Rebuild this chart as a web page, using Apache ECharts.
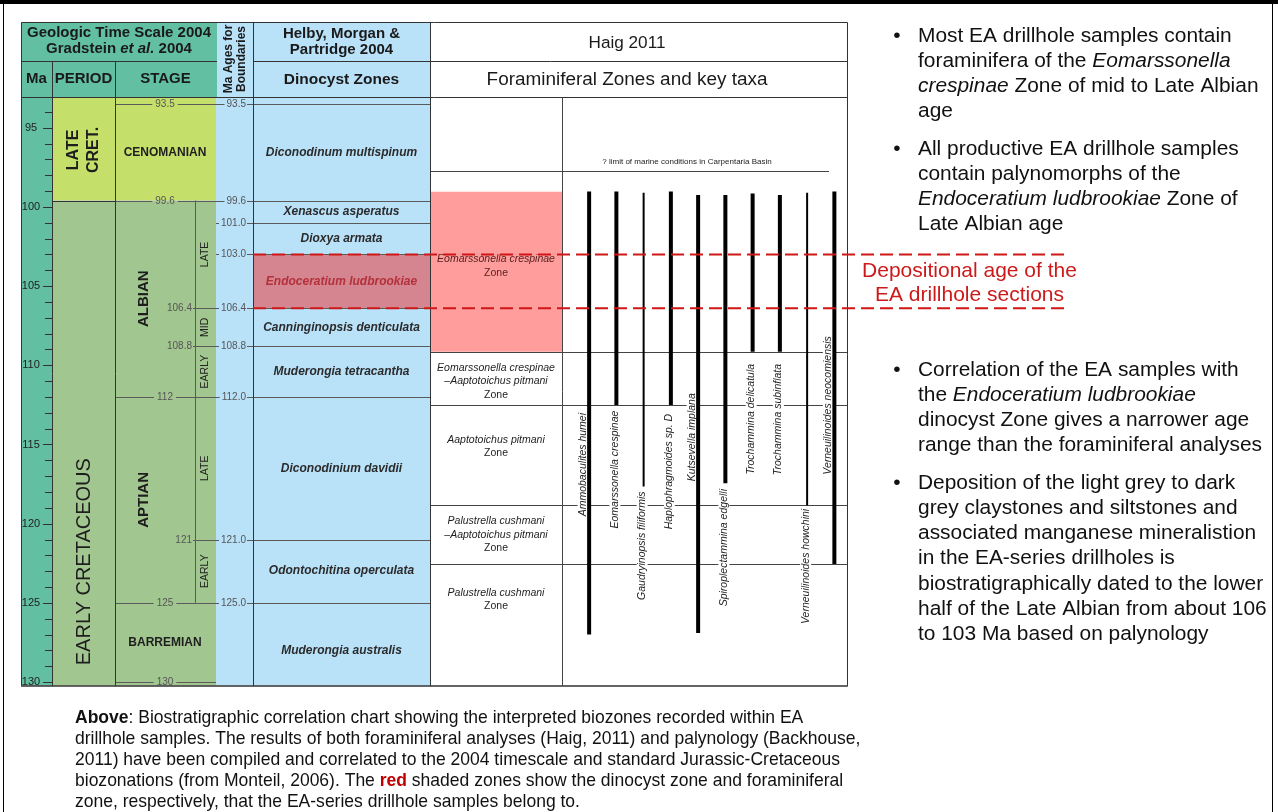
<!DOCTYPE html>
<html>
<head>
<meta charset="utf-8">
<title>Biostratigraphic correlation chart</title>
<script src="https://cdn.jsdelivr.net/npm/echarts@6/dist/echarts.min.js"></script>
<style>
html,body{margin:0;padding:0;background:#fff;}
#chart{width:1278px;height:812px;}
</style>
</head>
<body>
<div id="chart"></div>
<script>
// ================= DATA =================
const maLabels = [95, 100, 105, 110, 115, 120, 125, 130];
const maTicks = [94, 95, 96, 97, 98, 99, 100, 101, 102, 103, 104, 105, 106, 107, 108, 109, 110, 111, 112,
  113, 114, 115, 116, 117, 118, 119, 120, 121, 122, 123, 124, 125, 126, 127, 128, 129, 130];

const periods = ['LATE\nCRET.', 'EARLY CRETACEOUS'];
const periodTop = [93.0, 99.6];
const periodBase = [99.6, 131.0];
const periodLabelAt = [96.4, 122.4];

const stages = ['CENOMANIAN', 'ALBIAN', 'APTIAN', 'BARREMIAN'];
const stageTop = [93.5, 99.6, 112, 125];
const stageBase = [99.6, 112, 125, 130];

const substages = ['LATE', 'MID', 'EARLY', 'LATE', 'EARLY'];
const substageTop = [99.6, 106.4, 108.8, 112, 121];
const substageBase = [106.4, 108.8, 112, 121, 125];

const boundaryAges = [93.5, 99.6, 101.0, 103.0, 106.4, 108.8, 112.0, 121.0, 125.0];

const dinoZones = ['Diconodinum multispinum', 'Xenascus asperatus', 'Dioxya armata', 'Endoceratium ludbrookiae',
  'Canninginopsis denticulata', 'Muderongia tetracantha', 'Diconodinium davidii', 'Odontochitina operculata',
  'Muderongia australis'];
const dinoTop = [93.5, 99.6, 101.0, 103.0, 106.4, 108.8, 112.0, 121.0, 125.0];
const dinoBase = [99.6, 101.0, 103.0, 106.4, 108.8, 112.0, 121.0, 125.0, 131.0];
const dinoEA = 3;

const foramZones = ['Eomarssonella crespinae', 'Eomarssonella crespinae\n–Aaptotoichus pitmani',
  'Aaptotoichus pitmani', 'Palustrella cushmani\n–Aaptotoichus pitmani', 'Palustrella cushmani'];
const foramTop = [99.05, 109.15, 112.5, 118.85, 122.55];
const foramBase = [109.15, 112.5, 118.85, 122.55, 127.0];
const foramLabelAt = [103.75, 111.0, 115.15, 118.85 + 1.85, 124.8];
const foramEA = 0;
const marineLimit = 97.75;

const taxa = ['Ammobaculites humei', 'Eomarssonella crespinae', 'Gaudryinopsis filiformis', 'Haplophragmoides sp. D',
  'Kutsevella implana', 'Spiroplectammina edgelli', 'Trochammina delicatula', 'Trochammina subinflata',
  'Verneuilinoides howchini', 'Verneuilinoides neocomiensis'];
const taxaTop = [99.03, 99.03, 99.1, 99.03, 99.24, 99.24, 99.15, 99.24, 99.1, 99.03];
const taxaBase = [127.0, 112.5, 117.65, 112.5, 126.9, 117.45, 109.15, 109.15, 118.85, 122.55];
const taxaRare = [false, false, true, false, false, false, false, false, true, false];
const taxaLabelTop = [112.95, 112.8, 117.9, 113.0, 111.7, 117.75, 109.85, 109.85, 119.0, 108.1];

const depositionalAge = [103.0, 106.4];

// ================= STYLE / LAYOUT =================
const FONT = '"Liberation Sans", Arial, Helvetica, sans-serif';
const NARROW = '"Liberation Sans Narrow", "Liberation Sans", Arial, sans-serif';
const C = {
  teal: '#62bfa2', yg: '#c4e06a', green: '#a2c690', blue: '#b9e1f8',
  pinkDino: '#d5858f', pinkForam: '#ff9c9c', red: '#d01616', line: '#5a5a5a', dark: '#333', text: '#222'
};
const PERIOD_FILL = [C.yg, C.green];
const PERIOD_LABEL = [{size: 16, weight: 'bold', lh: 20}, {size: 20, weight: 'normal', lh: 22}];
const Y_MIN = 93.06, Y_MAX = 130.25;

const mctx = document.createElement('canvas').getContext('2d');
function textW(str, font) { mctx.font = font; return mctx.measureText(str).width; }
function fit(str, family, weight, target) { return 20 * target / textW(str, weight + ' 20px ' + family); }
const snap = v => Math.round(v) + 0.5;

function T(x, y, text, o) {
  o = o || {};
  const al = o.align || 'center', va = o.valign || 'middle';
  const st = {
    text: text, x: 0, y: 0, fill: o.color || C.text, fontSize: o.size || 11, fontFamily: o.family || FONT,
    fontWeight: o.weight || 'normal', fontStyle: o.style || 'normal',
    align: al, verticalAlign: va, textAlign: al, textVerticalAlign: va
  };
  if (o.lh) st.lineHeight = o.lh;
  if (o.bg) { st.backgroundColor = o.bg; st.padding = o.pad || [0, 2]; }
  if (o.rich) st.rich = o.rich;
  return {type: 'text', x: x, y: y, rotation: o.rot || 0, style: st};
}
function L(x1, y1, x2, y2, o) {
  o = o || {};
  const s = {stroke: o.color || C.line, lineWidth: o.w || 1, lineCap: 'butt'};
  if (o.dash) s.lineDash = o.dash;
  return {type: 'line', shape: {x1: x1, y1: y1, x2: x2, y2: y2}, style: s};
}
function box(P, x1, m1, x2, m2, fill) {
  const a = P(x1, m1), b = P(x2, m2);
  return {type: 'rect', shape: {x: Math.min(a[0], b[0]), y: Math.min(a[1], b[1]),
    width: Math.abs(b[0] - a[0]), height: Math.abs(b[1] - a[1])}, style: {fill: fill}};
}
function layer(gi, n, z, draw, clip) {
  return {
    type: 'custom', coordinateSystem: 'cartesian2d', xAxisIndex: gi, yAxisIndex: gi,
    z: z, silent: true, clip: clip !== false, animation: false,
    data: Array.from({length: n}, (_, k) => [k, k]),
    renderItem: function (params, api) {
      const P = (x, m) => api.coord([x, m]);
      return {type: 'group', children: draw(params.dataIndex, P)};
    }
  };
}

const stageBounds = Array.from(new Set(stageTop.concat(stageBase))).sort((a, b) => a - b);
const series = [];

// column backgrounds
series.push(layer(0, 1, 1, (i, P) => [
  box(P, 21, Y_MIN, 52, Y_MAX, C.teal),
  box(P, 216, Y_MIN, 430, Y_MAX, C.blue)
]));
// period fills (period + stage columns)
series.push(layer(0, periods.length, 2, (i, P) => [box(P, 52, periodTop[i], 216, periodBase[i], PERIOD_FILL[i])]));
// highlighted zones of the EA samples
series.push(layer(0, 1, 3, (i, P) => [
  box(P, 253, dinoTop[dinoEA], 430, dinoBase[dinoEA], C.pinkDino),
  box(P, 430, foramTop[foramEA], 562, foramBase[foramEA], C.pinkForam)
]));
// stage boundaries
series.push(layer(0, stageBounds.length, 4, (i, P) => {
  const b = stageBounds[i];
  const y = snap(P(115, b)[1]);
  const s = String(b);
  const w = textW(s, '10px ' + FONT);
  const cx = P(165, b)[0];
  const out = [L(P(115, b)[0], y, cx - w / 2 - 3, y), L(cx + w / 2 + 3, y, P(216, b)[0], y),
    T(cx, y, s, {size: 10, color: '#555'})];
  if (periodTop.indexOf(b) >= 0) out.push(L(P(52, b)[0], y, P(115, b)[0], y, {color: C.dark}));
  return out;
}));
// substages
series.push(layer(0, substages.length, 4, (i, P) => {
  const yT = P(195, substageTop[i])[1], yB = P(195, substageBase[i])[1];
  const x = snap(P(195, 0)[0]);
  const out = [L(x, yT, x, yB),
    T(P(205.5, 0)[0], (yT + yB) / 2, substages[i], {rot: Math.PI / 2, size: 10.5})];
  if (stageBounds.indexOf(substageTop[i]) < 0) {
    const y = snap(yT);
    out.push(L(P(193, 0)[0], y, P(216, 0)[0], y));
    out.push(T(P(192, 0)[0], y, String(substageTop[i]), {align: 'right', size: 10, color: '#555'}));
  }
  return out;
}));
// Ma ages for boundaries + dinocyst zone boundaries
series.push(layer(0, boundaryAges.length, 4, (i, P) => {
  const m = boundaryAges[i];
  const y = snap(P(216, m)[1]);
  const s = m.toFixed(1);
  const w = textW(s, '10px ' + FONT);
  return [L(P(216, m)[0], y, P(246, m)[0] - w - 2, y), L(P(247, m)[0], y, P(430, m)[0], y),
    T(P(246, m)[0], y, s, {align: 'right', size: 10, color: '#555'})];
}));
// foraminiferal zone boundaries
series.push(layer(0, foramTop.length, 4, (i, P) => {
  if (i === foramEA) return [];
  const y = snap(P(430, foramTop[i])[1]);
  return [L(P(430, 0)[0], y, P(848, 0)[0], y, {color: '#444'})];
}));
// marine limit
series.push(layer(0, 1, 4, (i, P) => {
  const y = snap(P(430, marineLimit)[1]);
  return [L(P(430, 0)[0], y, P(829, 0)[0], y, {color: '#444'}),
    T(P(687, 0)[0], y - 9.5, '? limit of marine conditions in Carpentaria Basin', {size: 8, color: '#222'})];
}));
// period labels
series.push(layer(0, periods.length, 5, (i, P) => {
  const o = PERIOD_LABEL[i];
  return [T(P(84, 0)[0], P(84, periodLabelAt[i])[1], periods[i],
    {rot: Math.PI / 2, size: o.size, weight: o.weight, lh: o.lh, color: '#1e1e1e'})];
}));
// stage labels
series.push(layer(0, stages.length, 5, (i, P) => {
  const y = (P(0, stageTop[i])[1] + P(0, stageBase[i])[1]) / 2;
  const hasSub = substageTop.some(t => t >= stageTop[i] && t < stageBase[i]);
  if (hasSub) return [T(P(144, 0)[0], y, stages[i], {rot: Math.PI / 2, size: 15, weight: 'bold', color: '#1e1e1e'})];
  return [T(P(165, 0)[0], y, stages[i], {size: 12, weight: 'bold', color: '#1e1e1e'})];
}));
// dinocyst zone labels
series.push(layer(0, dinoZones.length, 5, (i, P) => {
  const y = (P(0, dinoTop[i])[1] + P(0, Math.min(dinoBase[i], 131))[1]) / 2;
  return [T(P(341.5, 0)[0], y, dinoZones[i], {size: 12, weight: 'bold', style: 'italic',
    color: i === dinoEA ? '#b3303c' : '#2b2b2b'})];
}));
// foraminiferal zone labels
series.push(layer(0, foramZones.length, 5, (i, P) => {
  const y = P(0, foramLabelAt[i])[1];
  const col = i === foramEA ? '#5a2222' : '#1e1e1e';
  const txt = foramZones[i].split('\n').map(s => '{i|' + s + '}').join('\n') + '\nZone';
  return [T(P(496, 0)[0], y, txt, {size: 10.5, lh: 13.5, color: col,
    rich: {i: {fontStyle: 'italic', fontSize: 10.5, fontFamily: FONT, fill: col, lineHeight: 13.5}}})];
}));
// taxa labels (category axis grid)
series.push(layer(2, taxa.length, 6, (i, P) => {
  const bx = P(i, taxaBase[i])[0];
  const yl = P(i, taxaLabelTop[i])[1];
  const beside = taxaLabelTop[i] < taxaBase[i];
  return [T(bx + (beside ? -6 : -1.5), yl, taxa[i], {rot: Math.PI / 2, align: 'right', size: 10.5,
    style: 'italic', color: '#222', bg: '#fff', pad: [0, 1]})];
}));
// taxa range bars
series.push(layer(2, taxa.length, 7, (i, P) => {
  const a = P(i, taxaTop[i]), b = P(i, taxaBase[i]);
  return [L(a[0], a[1], a[0], b[1], {color: '#000', w: taxaRare[i] ? 2 : 4})];
}));
// Ma axis ticks (minor every 1 Ma, longer at labelled values)
series.push(layer(1, maTicks.length, 9, (i, P) => {
  const m = maTicks[i];
  const y = snap(P(1, m)[1]);
  const xr = P(1, m)[0];
  const len = maLabels.indexOf(m) >= 0 ? 9 : 7;
  return [L(xr - len, y, xr, y, {color: '#333'})];
}));
// depositional age dashed lines
series.push(layer(0, depositionalAge.length, 12, (i, P) => {
  const y = P(253, depositionalAge[i])[1];
  return [L(P(253, 0)[0], y, P(1066, 0)[0], y, {color: C.red, w: 2, dash: [13, 6]})];
}, false));
series.push(layer(0, 1, 12, (i, P) => {
  const y = (P(0, depositionalAge[0])[1] + P(0, depositionalAge[1])[1]) / 2 + 1.5;
  return [T(P(969.5, 0)[0], y, 'Depositional age of the\nEA drillhole sections', {size: 21, lh: 24, color: '#cc1a1a'})];
}, false));

// ================= GRAPHIC (header, frame, text) =================
const G = [];
function gRect(x, y, w, h, fill, z) { G.push({type: 'rect', z: z || 1, silent: true, shape: {x: x, y: y, width: w, height: h}, style: {fill: fill}}); }
function gLine(x1, y1, x2, y2, color, w, z) { G.push({type: 'line', z: z || 9, silent: true, shape: {x1: x1, y1: y1, x2: x2, y2: y2}, style: {stroke: color || '#333', lineWidth: w || 1}}); }
function gText(x, y, text, o) { const t = T(x, y, text, o); t.z = o.z || 5; t.silent = true; G.push(t); }

// page frame
gRect(0, 0, 1278, 4, '#000', 20);
gLine(3.5, 0, 3.5, 812, '#000', 1, 20);
gLine(1272.5, 0, 1272.5, 812, '#000', 1, 20);

// header cells
gRect(21, 22, 196, 75, C.teal, 1);
gRect(217, 22, 213, 75, C.blue, 1);
const HB = {weight: 'bold', color: '#1a1a1a'};
gText(119, 41, 'Geologic Time Scale 2004\nGradstein {bi|et al.} 2004', Object.assign({size: 15, lh: 16,
  rich: {bi: {fontWeight: 'bold', fontStyle: 'italic', fontSize: 15, fontFamily: FONT, fill: '#1a1a1a', lineHeight: 16}}}, HB));
gText(36.5, 79, 'Ma', Object.assign({size: 15}, HB));
gText(83.5, 79, 'PERIOD', Object.assign({size: 15}, HB));
gText(165.5, 79, 'STAGE', Object.assign({size: 15}, HB));
gText(235, 59, 'Ma Ages for\nBoundaries', Object.assign({size: 12, lh: 12.5, rot: Math.PI / 2}, HB));
gText(341.5, 42, 'Helby, Morgan &\nPartridge 2004', Object.assign({size: 15, lh: 16}, HB));
gText(341.5, 80, 'Dinocyst Zones', Object.assign({size: 15.5}, HB));
gText(627, 43, 'Haig 2011', {size: fit('Haig 2011', FONT, 'normal', 77), color: '#1a1a1a'});
gText(627, 80, 'Foraminiferal Zones and key taxa', {size: fit('Foraminiferal Zones and key taxa', FONT, 'normal', 281), color: '#1a1a1a'});

// table structure lines
G.push({type: 'rect', z: 9, silent: true, shape: {x: 21.5, y: 22.5, width: 826, height: 663.5}, style: {fill: 'none', stroke: '#333', lineWidth: 1}});
gLine(21, 686, 848, 686, '#555', 1.5);
gLine(21, 97.5, 848, 97.5, '#333');
gLine(21, 61.5, 217, 61.5, '#333');
gLine(253, 61.5, 848, 61.5, '#333');
gLine(52.5, 61, 52.5, 686, '#333');
gLine(115.5, 61, 115.5, 686, '#333');
gLine(253.5, 22, 253.5, 686, '#333');
gLine(430.5, 22, 430.5, 686, '#333');
gLine(562.5, 97, 562.5, 686, '#444');

// bullet text on the right
const bulletSize = fit('Most EA drillhole samples contain', FONT, 'normal', 314);
const BLH = 25.2;
const bulletRich = {i: {fontStyle: 'italic', fontSize: bulletSize, fontFamily: FONT, fill: '#111', lineHeight: BLH}};
const bullets = [
  [36, ['Most EA drillhole samples contain', 'foraminifera of the {i|Eomarssonella}', '{i|crespinae} Zone of mid to Late Albian', 'age']],
  [149, ['All productive EA drillhole samples', 'contain palynomorphs of the', '{i|Endoceratium ludbrookiae} Zone of', 'Late Albian age']],
  [370, ['Correlation of the EA samples with', 'the {i|Endoceratium ludbrookiae}', 'dinocyst Zone gives a narrower age', 'range than the foraminiferal analyses']],
  [483, ['Deposition of the light grey to dark', 'grey claystones and siltstones and', 'associated manganese mineralistion',
    'in the EA-series drillholes is', 'biostratigraphically dated to the lower', 'half of the Late Albian from about 106',
    'to 103 Ma based on palynology']]
];
bullets.forEach(b => {
  gText(897, b[0], '•', {size: bulletSize, color: '#111'});
  gText(918, b[0] - BLH / 2, b[1].join('\n'), {size: bulletSize, lh: BLH, color: '#111', align: 'left', valign: 'top', rich: bulletRich});
});

// caption
const capLines = [
  '{b|Above}: Biostratigraphic correlation chart showing the interpreted biozones recorded within EA',
  'drillhole samples. The results of both foraminiferal analyses (Haig, 2011) and palynology (Backhouse,',
  '2011) have been compiled and correlated to the 2004 timescale and standard Jurassic-Cretaceous',
  'biozonations (from Monteil, 2006). The {r|red} shaded zones show the dinocyst zone and foraminiferal',
  'zone, respectively, that the EA-series drillhole samples belong to.'
];
const capSize = fit('Above: Biostratigraphic correlation chart showing the interpreted biozones recorded within EA', NARROW, 'normal', 725);
const CLH = 21.1;
gText(75, 718 - CLH / 2, capLines.join('\n'), {size: capSize, lh: CLH, family: NARROW, color: '#111', align: 'left', valign: 'top',
  rich: {
    b: {fontWeight: 'bold', fontSize: capSize, fontFamily: NARROW, fill: '#111', lineHeight: CLH},
    r: {fontWeight: 'bold', fontSize: capSize, fontFamily: NARROW, fill: '#c00000', lineHeight: CLH}
  }});

// ================= CHART =================
const yBase = {type: 'value', min: Y_MIN, max: Y_MAX, inverse: true};
const option = {
  animation: false,
  backgroundColor: '#fff',
  grid: [
    {left: 21, top: 97, width: 827, height: 589, show: false},
    {left: 21, top: 97, width: 31, height: 589, show: false},
    {left: 575.5, top: 97, width: 272.5, height: 589, show: false}
  ],
  xAxis: [
    {gridIndex: 0, type: 'value', min: 21, max: 848, show: false},
    {gridIndex: 1, type: 'value', min: 0, max: 1, show: false},
    {gridIndex: 2, type: 'category', data: taxa, show: false}
  ],
  yAxis: [
    Object.assign({gridIndex: 0, show: false}, yBase),
    Object.assign({
      gridIndex: 1, show: true, position: 'right', z: 9,
      axisLine: {show: false},
      axisTick: {show: false},
      axisLabel: {show: true, inside: true, customValues: maLabels, align: 'center', margin: 21,
        fontSize: 11, color: '#222', fontFamily: FONT},
      splitLine: {show: false}
    }, yBase),
    Object.assign({gridIndex: 2, show: false}, yBase)
  ],
  graphic: {elements: G},
  series: series
};
const chart = echarts.init(document.getElementById('chart'), null, {width: 1278, height: 812});
chart.setOption(option);
</script>
</body>
</html>
